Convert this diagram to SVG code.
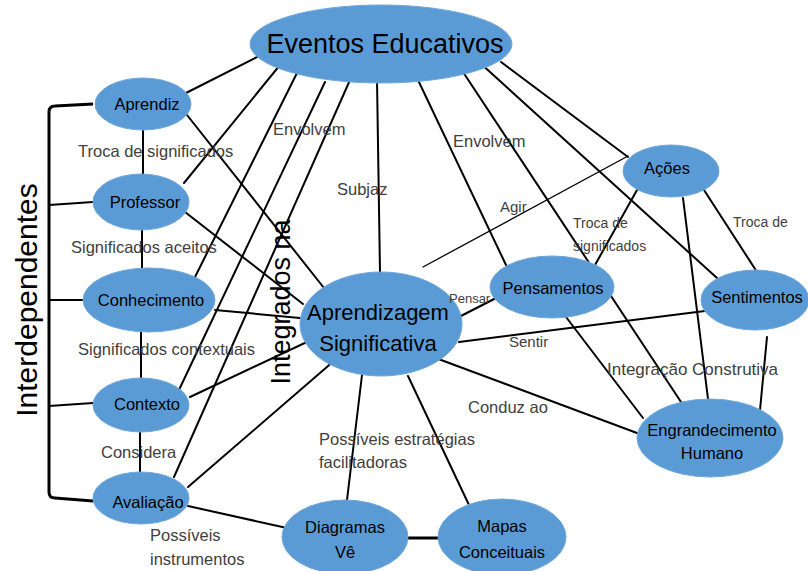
<svg xmlns="http://www.w3.org/2000/svg" width="808" height="571" viewBox="0 0 808 571">
<style>
.n{fill:#5b9bd5;stroke:#6fa7dc;stroke-width:1}
.t{font-family:"Liberation Sans",Arial,sans-serif;font-size:16.5px;fill:#000;text-anchor:middle}
.l{font-family:"Liberation Sans",Arial,sans-serif;font-size:16.5px;fill:#404040}
.c line{stroke:#000;stroke-width:2;stroke-linecap:round}
</style>
<rect width="808" height="571" fill="#fff"/>
<g class="c" id="connectors">
<line x1="257" y1="57" x2="184" y2="94"/>
<line x1="280" y1="65" x2="184" y2="183"/>
<line x1="297" y1="73" x2="195" y2="277"/>
<line x1="325" y1="82" x2="178" y2="392"/>
<line x1="350" y1="80" x2="174" y2="477"/>
<line x1="377" y1="80" x2="380" y2="272"/>
<line x1="418" y1="80" x2="506" y2="265"/>
<line x1="463" y1="72" x2="685" y2="408"/>
<line x1="479" y1="62" x2="717" y2="278"/>
<line x1="501" y1="62" x2="628" y2="157"/>
<line x1="628" y1="156" x2="423" y2="267" style="stroke-width:1.3"/>
<line x1="637" y1="190" x2="595" y2="265"/>
<line x1="683" y1="198" x2="708" y2="399"/>
<line x1="704" y1="190" x2="757" y2="272"/>
<line x1="767" y1="337" x2="760" y2="410"/>
<line x1="705" y1="311" x2="459" y2="342"/>
<line x1="498" y1="297" x2="457" y2="318"/>
<line x1="566" y1="317" x2="643" y2="418"/>
<line x1="433" y1="357" x2="637" y2="433"/>
<line x1="362" y1="375" x2="347" y2="500"/>
<line x1="408" y1="376" x2="469" y2="505"/>
<line x1="188" y1="506" x2="287" y2="528"/>
<line x1="188" y1="487" x2="335" y2="360"/>
<line x1="190" y1="397" x2="309" y2="341"/>
<line x1="215" y1="310" x2="300" y2="318"/>
<line x1="185" y1="212" x2="303" y2="304"/>
<line x1="187" y1="115" x2="324" y2="288"/>
<line x1="143" y1="130" x2="143" y2="175"/>
<line x1="142" y1="230" x2="142" y2="268"/>
<line x1="141" y1="332" x2="141" y2="378"/>
<line x1="140" y1="432" x2="140" y2="472"/>
<line x1="400" y1="538" x2="449" y2="538" style="stroke-width:3"/>
<path d="M93 104 L55 106 Q49 106 49 112 L49 492 Q49 498 55 498 L93 501" fill="none" stroke="#000" stroke-width="3"/>
<line x1="49" y1="205" x2="93" y2="202"/>
<line x1="49" y1="300" x2="83" y2="300"/>
<line x1="49" y1="406" x2="93" y2="403"/>
</g>
<g id="eventos"><ellipse class="n" cx="381" cy="44" rx="131" ry="39"/><text class="t" x="385" y="53" style="font-size:27px">Eventos Educativos</text></g>
<g id="aprendiz"><ellipse class="n" cx="143" cy="104" rx="48" ry="26"/><text class="t" x="147" y="110">Aprendiz</text></g>
<g id="professor"><ellipse class="n" cx="141" cy="202" rx="48" ry="28"/><text class="t" x="145" y="208">Professor</text></g>
<g id="conhecimento"><ellipse class="n" cx="149" cy="300" rx="66" ry="32"/><text class="t" x="151" y="306">Conhecimento</text></g>
<g id="contexto"><ellipse class="n" cx="141" cy="405" rx="48" ry="27"/><text class="t" x="147" y="410">Contexto</text></g>
<g id="avaliacao"><ellipse class="n" cx="141" cy="498" rx="48" ry="26"/><text class="t" x="148" y="508">Avaliação</text></g>
<g id="aprendizagem"><ellipse class="n" cx="381" cy="324" rx="81" ry="52"/><text class="t" x="378" y="320" style="font-size:22px">Aprendizagem</text><text class="t" x="378" y="351" style="font-size:22px">Significativa</text></g>
<g id="pensamentos"><ellipse class="n" cx="552" cy="287" rx="62" ry="31"/><text class="t" x="553" y="294">Pensamentos</text></g>
<g id="acoes"><ellipse class="n" cx="671" cy="171" rx="48" ry="26"/><text class="t" x="667" y="174">Ações</text></g>
<g id="sentimentos"><ellipse class="n" cx="755" cy="300" rx="54" ry="30"/><text class="t" x="757" y="303">Sentimentos</text></g>
<g id="engrandecimento"><ellipse class="n" cx="710" cy="438" rx="73" ry="39"/><text class="t" x="712" y="436">Engrandecimento</text><text class="t" x="712" y="459">Humano</text></g>
<g id="diagramas"><ellipse class="n" cx="345" cy="537" rx="63" ry="37"/><text class="t" x="345" y="533">Diagramas</text><text class="t" x="345" y="558">Vê</text></g>
<g id="mapas"><ellipse class="n" cx="502" cy="537" rx="64" ry="38"/><text class="t" x="502" y="532">Mapas</text><text class="t" x="502" y="558">Conceituais</text></g>
<g id="labels">
<text class="l" x="78" y="157">Troca de significados</text>
<text class="l" x="71" y="253">Significados aceitos</text>
<text class="l" x="78" y="355">Significados contextuais</text>
<text class="l" x="101" y="458">Considera</text>
<text class="l" x="150" y="541">Possíveis</text>
<text class="l" x="150" y="565">instrumentos</text>
<text class="l" x="273" y="135">Envolvem</text>
<text class="l" x="337" y="195">Subjaz</text>
<text class="l" x="453" y="147">Envolvem</text>
<text class="l" x="500" y="212" style="font-size:15px">Agir</text>
<text class="l" x="573" y="228" style="font-size:14px">Troca de</text>
<text class="l" x="573" y="251" style="font-size:14px">significados</text>
<text class="l" x="733" y="227" style="font-size:14px">Troca de</text>
<text class="l" x="449" y="303" style="font-size:13px">Pensar</text>
<text class="l" x="509" y="347" style="font-size:15px">Sentir</text>
<text class="l" x="607" y="375" style="font-size:17px">Integração Construtiva</text>
<text class="l" x="468" y="413">Conduz ao</text>
<text class="l" x="319" y="445">Possíveis estratégias</text>
<text class="l" x="319" y="468">facilitadoras</text>
<text x="37" y="300" transform="rotate(-90 37 300)" style="font-family:'Liberation Sans',Arial,sans-serif;font-size:30px;fill:#000;text-anchor:middle">Interdependentes</text>
<text x="290" y="302" transform="rotate(-90 290 302)" style="font-family:'Liberation Sans',Arial,sans-serif;font-size:27px;fill:#000;text-anchor:middle">Integrados na</text>
</g>
</svg>
